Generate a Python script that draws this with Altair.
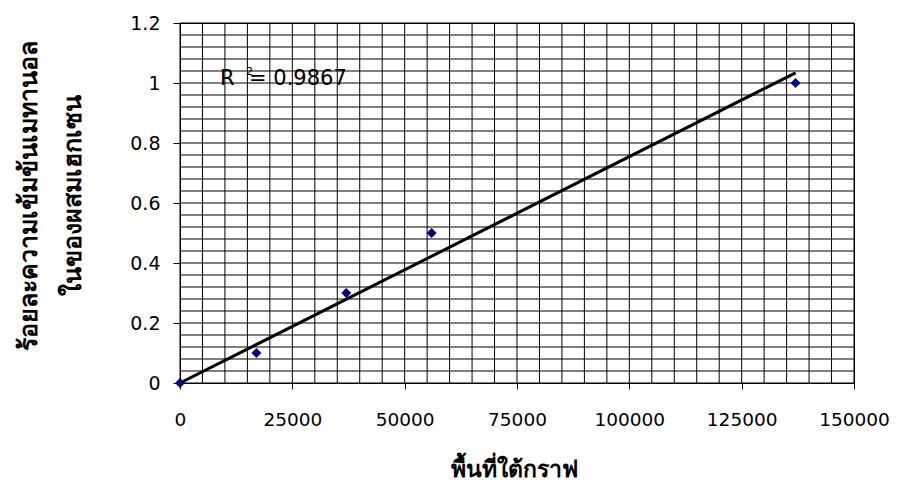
import altair as alt
import pandas as pd
import numpy as np

# Data
area = [0, 17000, 37000, 56000, 137000]
conc = [0.0, 0.1, 0.3, 0.5, 1.0]

x_ticks = [0, 25000, 50000, 75000, 100000, 125000, 150000]
y_ticks = [0, 0.2, 0.4, 0.6, 0.8, 1.0, 1.2]
x_grid = list(range(0, 150001, 5000))
y_grid = [round(i * 0.04, 2) for i in range(31)]
r2_label = "0.9867"

x_title = "พื้นที่ใต้กราฟ"
y_title = ["ร้อยละความเข้มข้นเมทานอล", "ในของผสมเฮกเซน"]

pts = pd.DataFrame({"x": area, "y": conc})

# linear trendline forced through the origin
xa = np.array(area, dtype=float)
ya = np.array(conc, dtype=float)
slope = float((xa * ya).sum() / (xa * xa).sum())
trend = pd.DataFrame({"x": [0, max(area)], "y": [0, slope * max(area)]})

xs = alt.Scale(domain=[0, 150000], nice=False, zero=False)
ys = alt.Scale(domain=[0, 1.2], nice=False, zero=False)

FONT = "DejaVu Sans"

xaxis = alt.Axis(values=x_ticks, grid=False, title=x_title, format="d", labelOverlap=False,
                 labelFlush=False, labelFont=FONT, labelFontSize=18.5,
                 labelColor="black", labelPadding=21, tickColor="black", tickSize=6,
                 domainColor="black", titleFontSize=23, titleFontWeight="bold",
                 titleColor="black", titleY=86, titleBaseline="middle", titleX=334)
yaxis = alt.Axis(values=y_ticks, grid=False, title=y_title, format="~g", labelOverlap=False,
                 labelFlush=False, labelFont=FONT,
                 labelFontSize=19, labelColor="black", labelPadding=13, tickColor="black",
                 tickSize=7, domainColor="black", titleFontSize=25, titleFontWeight="bold",
                 titleColor="black", titleLineHeight=44, titleX=-152, titleY=172,
                 titleAngle=-90, titleAlign="center", titleBaseline="middle")

vgrid = alt.Chart(pd.DataFrame({"x": x_grid})).mark_rule(color="black", strokeWidth=1).encode(
    x=alt.X("x:Q", scale=xs, axis=xaxis))
hgrid = alt.Chart(pd.DataFrame({"y": y_grid})).mark_rule(color="black", strokeWidth=1).encode(
    y=alt.Y("y:Q", scale=ys, axis=yaxis))

line = alt.Chart(trend).mark_line(color="black", strokeWidth=3).encode(
    x=alt.X("x:Q", scale=xs), y=alt.Y("y:Q", scale=ys))

points = alt.Chart(pts).mark_point(shape="diamond", filled=True, color="#000080",
                                   size=100, opacity=1).encode(
    x=alt.X("x:Q", scale=xs), y=alt.Y("y:Q", scale=ys))

r_text = alt.Chart(pd.DataFrame({"t": ["R"]})).mark_text(
    font=FONT, fontSize=21, color="black", align="left", baseline="alphabetic").encode(
    text="t:N", x=alt.value(40), y=alt.value(62))
sup_text = alt.Chart(pd.DataFrame({"t": ["2"]})).mark_text(
    font=FONT, fontSize=11, color="black", align="left", baseline="alphabetic").encode(
    text="t:N", x=alt.value(66), y=alt.value(52))
val_text = alt.Chart(pd.DataFrame({"t": ["= " + r2_label]})).mark_text(
    font=FONT, fontSize=21, color="black", align="left", baseline="alphabetic").encode(
    text="t:N", x=alt.value(69), y=alt.value(62))

chart = alt.layer(vgrid, hgrid, line, points, r_text, sup_text, val_text).properties(
    width=674, height=360,
    autosize=alt.AutoSizeParams(type="none"),
    padding={"left": 172, "top": 15, "right": 35, "bottom": 100},
    background="white",
).configure_view(stroke="black", strokeWidth=1)

chart.save("out.html", embed_options={"renderer": "svg", "actions": False})
